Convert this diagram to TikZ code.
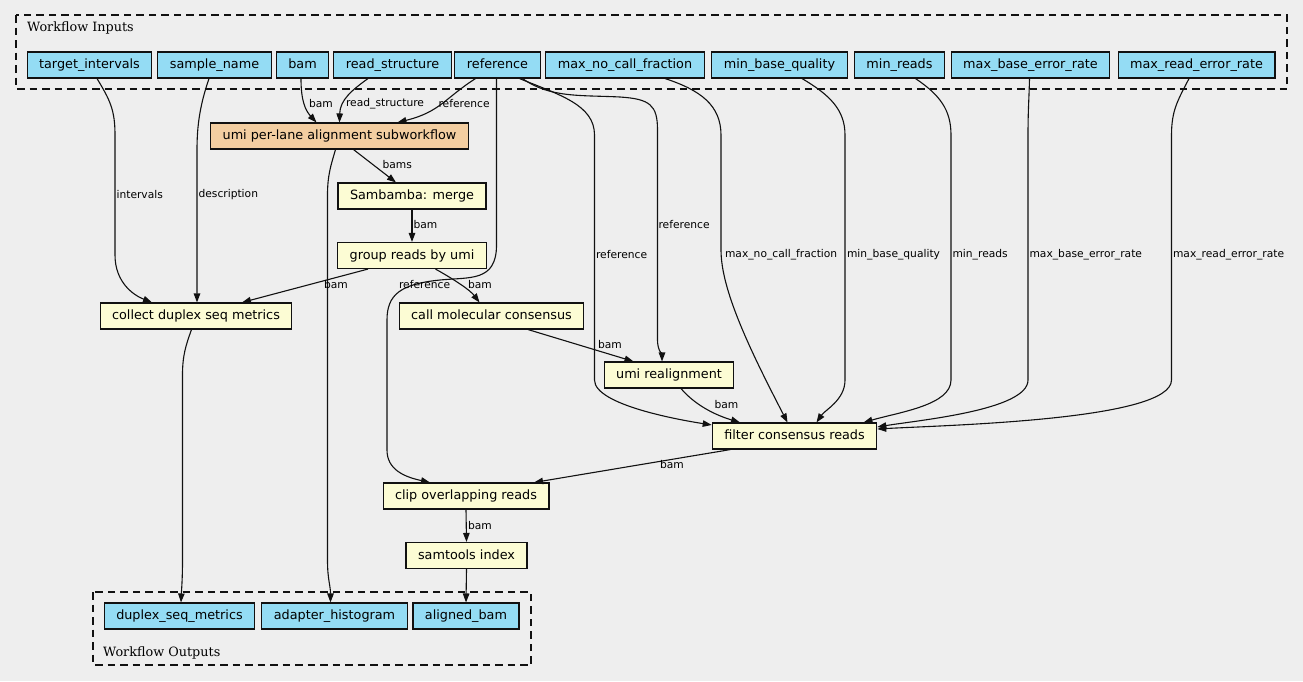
\documentclass[tikz,border=0pt]{standalone}
\usepackage{fontspec}
\usetikzlibrary{arrows.meta}
\newfontfamily\boxfont{DejaVu Sans}
\newfontfamily\clusterfont{DejaVu Serif}
\definecolor{bgcol}{HTML}{EEEEEE}
\definecolor{incol}{HTML}{94DCF4}
\definecolor{subcol}{HTML}{F3CEA1}
\definecolor{stepcol}{HTML}{FCFCD4}
\definecolor{linecol}{HTML}{111111}

\begin{document}
\begin{tikzpicture}[x=1pt,y=-1pt,>={Triangle[length=9pt,width=6.5pt]},
  box/.style={draw=linecol,line width=1.1pt,inner xsep=12pt,minimum height=26pt,
    text height=9.6pt,text depth=2.6pt,font=\boxfont\fontsize{12.8}{14}\selectfont},
  input node/.style={box,fill=incol},
  sub node/.style={box,fill=subcol},
  step node/.style={box,fill=stepcol},
  flow/.style={->,draw=linecol,line width=1.1pt},
  lbl/.style={anchor=west,inner sep=0.5pt,font=\boxfont\fontsize{10.7}{12}\selectfont},
  cluster/.style={draw=linecol,dash pattern=on 7.5pt off 5pt,line width=1.15pt},
  clabel/.style={anchor=base west,inner sep=0pt,font=\clusterfont\fontsize{12.8}{14}\selectfont}]
  \useasboundingbox (0,0) rectangle (1303,681);
  \fill[bgcol] (0,0) rectangle (1303,681);

  % clusters
  \draw[cluster] (16,15) rectangle (1287,89);
  \node[clabel] (inlbl) at (27,31.5) {Workflow Inputs};
  \draw[cluster] (93,592) rectangle (531,665);
  \node[clabel] (outlbl) at (103,656) {Workflow Outputs};

  % inputs
  \node[input node] (ti) at (89.5,65) {target\_intervals};
  \node[input node] (sn) at (214.5,65) {sample\_name};
  \node[input node] (bam) at (302.5,65) {bam};
  \node[input node] (rs) at (392.5,65) {read\_structure};
  \node[input node] (ref) at (497.5,65) {reference};
  \node[input node] (mncf) at (625,65) {max\_no\_call\_fraction};
  \node[input node] (mbq) at (779.5,65) {min\_base\_quality};
  \node[input node] (mr) at (899.5,65) {min\_reads};
  \node[input node] (mber) at (1030.5,65) {max\_base\_error\_rate};
  \node[input node] (mrer) at (1196.5,65) {max\_read\_error\_rate};

  % steps
  \node[sub node] (umi) at (339.5,136) {umi per-lane alignment subworkflow};
  \node[step node] (merge) at (412,196) {Sambamba: merge};
  \node[step node] (group) at (412,255.5) {group reads by umi};
  \node[step node] (collect) at (196,316) {collect duplex seq metrics};
  \node[step node] (call) at (491.5,316) {call molecular consensus};
  \node[step node] (realign) at (669,375) {umi realignment};
  \node[step node] (filter) at (794.5,436) {filter consensus reads};
  \node[step node] (clip) at (466,496) {clip overlapping reads};
  \node[step node] (index) at (466.5,555.5) {samtools index};

  % outputs
  \node[input node] (dsm) at (179.5,616) {duplex\_seq\_metrics};
  \node[input node] (ah) at (334.5,616) {adapter\_histogram};
  \node[input node] (ab) at (466,616) {aligned\_bam};

  % edges
  \draw[flow] ([xshift=7.5pt]ti.south) .. controls (110,100) and (115,110) .. (115,135)
    -- (115,255) .. controls (115,282) and (133,295) .. ([xshift=-44pt]collect.north)
    node[lbl] (l1) at (115.5,195) {intervals};
  \draw[flow] ([xshift=-5.5pt]sn.south) .. controls (200,105) and (197,125) .. (197,150)
    -- ([xshift=1pt]collect.north)
    node[lbl] (l2) at (197.5,195) {description};
  \draw[flow] ([xshift=-1.5pt]bam.south) .. controls (301,100) and (305,110) .. ([xshift=-23pt]umi.north)
    node[lbl] (l3) at (308,104) {bam};
  \draw[flow] ([xshift=-24.5pt]rs.south) .. controls (352,90) and (340,100) .. (umi.north)
    node[lbl] (l4) at (345,104) {read\_structure};
  \draw[flow] ([xshift=-22pt]ref.south) .. controls (445,98) and (440,112) .. ([xshift=58pt]umi.north)
    node[lbl] (l5) at (437.5,104) {reference};
  \draw[flow] ([xshift=-1pt]ref.south) -- (496.5,245) .. controls (496.5,282) and (470,277) .. (440,280)
    .. controls (400,284) and (387,295) .. (387,320) -- (387,450)
    .. controls (387,470) and (405,477) .. ([xshift=-36pt]clip.north)
    node[lbl] (l6) at (398,285) {reference};
  \draw[flow] ([xshift=22pt]ref.south) .. controls (560,95) and (594.5,105) .. (594.5,135)
    -- (594.5,380) .. controls (594.5,405) and (680,420) .. ([yshift=-2.5pt]filter.north west)
    node[lbl] (l7) at (595,255) {reference};
  \draw[flow] ([xshift=25pt]ref.south) .. controls (550,98) and (580,95) .. (620,97)
    .. controls (650,99) and (657.5,105) .. (657.5,130) -- (657.5,340)
    .. controls (657.5,350) and (662,355) .. ([xshift=-7pt]realign.north)
    node[lbl] (l8) at (657.5,225) {reference};
  \draw[flow] ([xshift=40pt]mncf.south) .. controls (700,90) and (721,105) .. (721,135)
    -- (721,250) .. controls (721,290) and (750,350) .. ([xshift=-7pt]filter.north)
    node[lbl] (l9) at (724,255) {max\_no\_call\_fraction};
  \draw[flow] ([xshift=22.5pt]mbq.south) .. controls (830,95) and (845,110) .. (845,135)
    -- (845,380) .. controls (845,400) and (825,410) .. ([xshift=22pt]filter.north)
    node[lbl] (l10) at (846,255) {min\_base\_quality};
  \draw[flow] ([xshift=16pt]mr.south) .. controls (940,95) and (951,110) .. (951,135)
    -- (951,380) .. controls (951,405) and (900,412) .. ([xshift=69pt]filter.north)
    node[lbl] (l11) at (951.5,255) {min\_reads};
  \draw[flow] ([xshift=-1pt]mber.south) .. controls (1029,100) and (1028,110) .. (1028,135)
    -- (1028,380) .. controls (1028,410) and (920,420) .. ([yshift=9pt]filter.east)
    node[lbl] (l12) at (1028.5,255) {max\_base\_error\_rate};
  \draw[flow] ([xshift=-7.5pt]mrer.south) .. controls (1178,100) and (1171.5,110) .. (1171.5,135)
    -- (1171.5,380) .. controls (1171.5,420) and (950,425) .. ([yshift=7pt]filter.east)
    node[lbl] (l13) at (1172,255) {max\_read\_error\_rate};
  \draw[flow] ([xshift=14pt]umi.south) -- ([xshift=-16pt]merge.north)
    node[lbl] (l14) at (381.5,165) {bams};
  \draw[flow] ([xshift=-4pt]umi.south) .. controls (331,165) and (327.5,175) .. (327.5,195)
    -- (327.5,560) .. controls (327.5,580) and (330.5,585) .. ([xshift=-4pt]ah.north);
  \draw[flow] (merge.south) -- (group.north)
    node[lbl] (l15) at (412.5,225) {bam};
  \draw[flow] ([xshift=-44pt]group.south) -- ([xshift=46pt]collect.north)
    node[lbl] (l16) at (323,285) {bam};
  \draw[flow] ([xshift=23.5pt]group.south) .. controls (455,280) and (470,290) .. ([xshift=-12pt]call.north)
    node[lbl] (l17) at (467,285) {bam};
  \draw[flow] ([xshift=36.5pt]call.south) -- ([xshift=-35.5pt]realign.north)
    node[lbl] (l18) at (597,345) {bam};
  \draw[flow] ([xshift=12pt]realign.south) .. controls (695,405) and (715,415) .. ([xshift=-54.5pt]filter.north)
    node[lbl] (l19) at (713.5,405) {bam};
  \draw[flow] ([xshift=-4.5pt]collect.south) .. controls (186,345) and (182.5,355) .. (182.5,375)
    -- (182.5,560) .. controls (182.5,580) and (181.5,590) .. ([xshift=1.5pt]dsm.north);
  \draw[flow] ([xshift=-64pt]filter.south) -- ([xshift=68pt]clip.north)
    node[lbl] (l20) at (659,465) {bam};
  \draw[flow] (clip.south) -- (index.north)
    node[lbl] (l21) at (467,525) {bam};
  \draw[flow] (index.south) -- (ab.north);
\end{tikzpicture}
\end{document}
